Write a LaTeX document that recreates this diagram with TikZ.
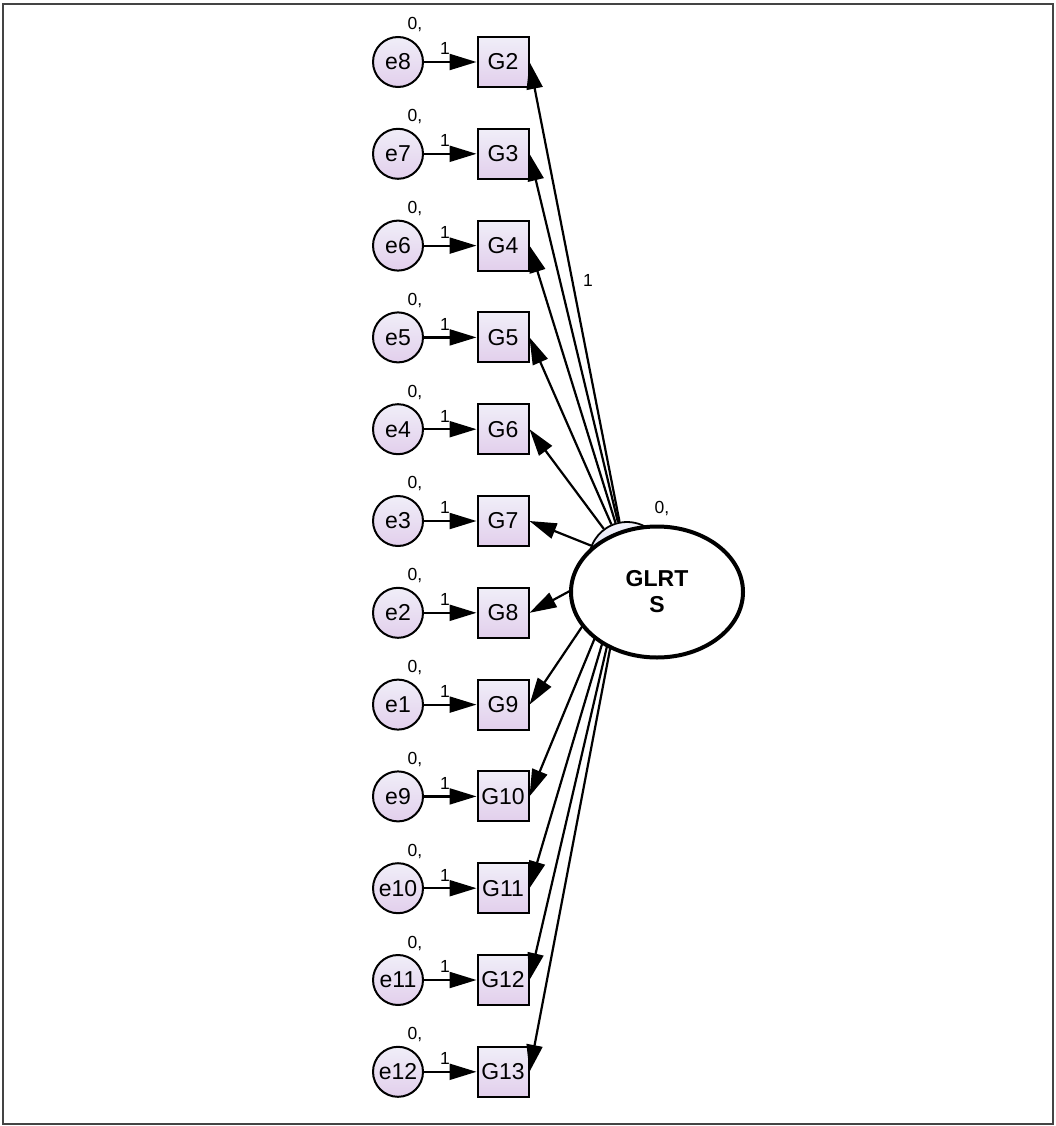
\documentclass[tikz,border=0pt]{standalone}
\usepackage{fontspec}
\setmainfont{Liberation Sans}
\usetikzlibrary{arrows.meta,shapes.geometric}
\definecolor{frameclr}{HTML}{444444}
\definecolor{vartop}{HTML}{F0EEF8}
\definecolor{varbot}{HTML}{E2CFEC}
\definecolor{lattop}{HTML}{F2F2FA}
\definecolor{latbot}{HTML}{CFD4EE}
\tikzset{
  errnode/.style={circle, draw=black, line width=2pt, minimum size=50pt, inner sep=0pt,
    top color=vartop, bottom color=varbot, font=\fontsize{23}{23}\selectfont},
  obsnode/.style={rectangle, draw=black, line width=2pt, minimum width=51pt, minimum height=50pt,
    inner sep=0pt, top color=vartop, bottom color=varbot, font=\fontsize{23}{23}\selectfont},
  latnode/.style={circle, draw=black, line width=1.8pt, minimum size=76pt, inner sep=0pt,
    top color=lattop, bottom color=latbot},
  bignode/.style={ellipse, draw=black, line width=4pt, fill=white, minimum width=172pt,
    minimum height=131pt, inner sep=0pt, align=center,
    font=\bfseries\fontsize{23}{26}\selectfont},
  path/.style={line width=2.2pt, -{Triangle[length=27pt,width=16pt]}},
  smalllbl/.style={font=\fontsize{17.5}{17.5}\selectfont, inner sep=0pt},
}
\begin{document}
\begin{tikzpicture}[x=1pt,y=-1pt]
\useasboundingbox (0,0) rectangle (1056,1126);
\draw[frameclr, line width=2.4pt] (3,4) rectangle (1053,1124);

% latent variable (circle behind the label ellipse)
\node[latnode] (L) at (627,560) {};
\node[smalllbl] (Lvar) at (662,509) {0,};

% indicators with their error terms
\foreach \g/\e [count=\i from 0] in {G2/e8,G3/e7,G4/e6,G5/e5,G6/e4,G7/e3,G8/e2,G9/e1,G10/e9,G11/e10,G12/e11,G13/e12}{
  \pgfmathsetmacro{\yy}{62+91.8*\i}
  \node[obsnode] (\g) at (503,\yy) {\g};
  \node[errnode] (\e) at (398,\yy) {\e};
  \node[smalllbl] (\e v) at (415,\yy-37) {0,};
  \draw[path] (\e) -- (\g) node[smalllbl, pos=0.4, above=6pt] (\e w) {1};
}

% loadings from the latent variable
\foreach \g in {G2,G3,G4,G5,G6,G7,G8,G9,G10,G11,G12,G13}{
  \draw[path] (L) -- (\g.east);
}
\node[smalllbl] (fix) at (588,280) {1};

% label ellipse drawn on top
\node[bignode] (GL) at (657,592) {GLRT\\S};
\end{tikzpicture}
\end{document}
